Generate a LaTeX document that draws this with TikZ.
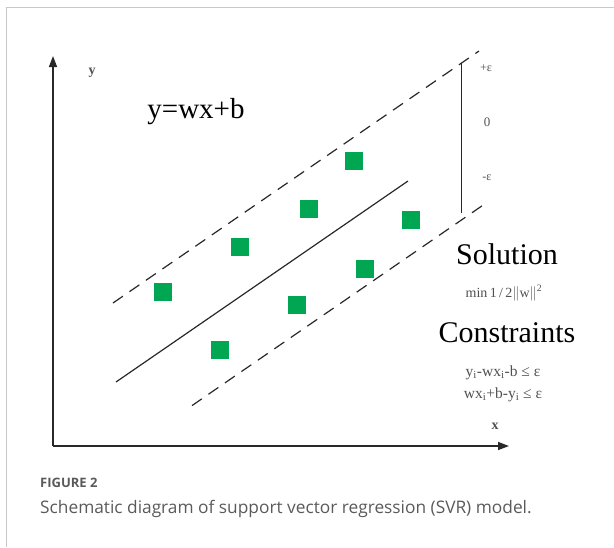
\documentclass[tikz,border=0pt]{standalone}
\usepackage{fontspec}
\setmainfont{Liberation Serif}
\newfontfamily\capfont{Open Sans}
\usetikzlibrary{arrows.meta}
\definecolor{svrgreen}{RGB}{0,166,81}
\definecolor{axisgray}{RGB}{40,40,40}
\definecolor{framegray}{RGB}{200,200,200}
\definecolor{capgray}{RGB}{90,90,90}
\definecolor{labgray}{RGB}{80,80,80}

\begin{document}
\begin{tikzpicture}[x=1pt,y=-1pt,every node/.style={inner sep=0pt},
    sample/.style={fill=svrgreen,minimum size=18.5pt},
    band/.style={line width=1.2pt,dash pattern=on 12pt off 8pt},
    axis/.style={axisgray,line width=1.4pt,-{Triangle[length=11pt,width=8pt]}}]
  \useasboundingbox (0,0) rectangle (614,547);
  \draw[framegray,line width=1pt] (6,547) -- (6,7) -- (614,7);
  % axes
  \coordinate (o) at (53,446);
  \coordinate (ytip) at (53,56);
  \coordinate (xtip) at (509,446);
  \draw[axis] (o) -- (ytip);
  \draw[axis] (o) -- (xtip);
  \node[font=\fontsize{14}{14}\selectfont\bfseries,labgray] (ylab) at (92,73) {y};
  \node[font=\fontsize{14}{14}\selectfont\bfseries,labgray] (xlab) at (495,426) {x};
  % regression line and epsilon band
  \coordinate (s1) at (116,382);
  \coordinate (s2) at (408,181);
  \coordinate (u1) at (113,303);
  \coordinate (u2) at (479,51);
  \coordinate (l1) at (192,405.6);
  \coordinate (l2) at (488,201.7);
  \draw[axisgray,line width=1.2pt] (s1) -- (s2);
  \draw[axisgray,band] (u1) -- (u2);
  \draw[axisgray,band] (l1) -- (l2);
  \coordinate (vtop) at (461,63);
  \coordinate (vbot) at (461,213);
  \draw[axisgray,line width=1pt] (vtop) -- (vbot);
  \node[font=\fontsize{12}{12}\selectfont,labgray] (plus) at (486,68) {+ε};
  \node[font=\fontsize{13}{13}\selectfont,labgray] (zero) at (487,122) {0};
  \node[font=\fontsize{12}{12}\selectfont,labgray] (minus) at (487,178) {-ε};
  % samples
  \node[sample] (p1) at (163,292) {};
  \node[sample] (p2) at (240,247) {};
  \node[sample] (p3) at (309,209) {};
  \node[sample] (p4) at (354,161) {};
  \node[sample] (p5) at (411,220) {};
  \node[sample] (p6) at (365,269) {};
  \node[sample] (p7) at (297,305) {};
  \node[sample] (p8) at (220,350) {};
  % texts
  \node[font=\fontsize{29}{30}\selectfont] (eq) at (196,112) {y=wx+b};
  \node[font=\fontsize{30}{30}\selectfont] (sol) at (507,254) {Solution};
  \node[font=\fontsize{14}{14}\selectfont,labgray] (minw) at (504,293) {min\,1\,/\,2$\|$w$\|$\textsuperscript{2}};
  \node[font=\fontsize{15.5}{15.5}\selectfont,labgray] (c1) at (503,373) {y\textsubscript{i}-wx\textsubscript{i}-b ≤ ε};
  \node[font=\fontsize{30}{30}\selectfont] (cons) at (507,333) {Constraints};
  \node[font=\fontsize{15.5}{15.5}\selectfont,labgray] (c2) at (503,395) {wx\textsubscript{i}+b-y\textsubscript{i} ≤ ε};
  % caption
  \node[font=\capfont\fontsize{13}{13}\selectfont\bfseries,capgray,anchor=west] (fig) at (40,483) {FIGURE 2};
  \node[font=\capfont\fontsize{17.3}{18}\selectfont,capgray,anchor=west] (cap) at (40,509) {Schematic diagram of support vector regression (SVR) model.};
\end{tikzpicture}
\end{document}
